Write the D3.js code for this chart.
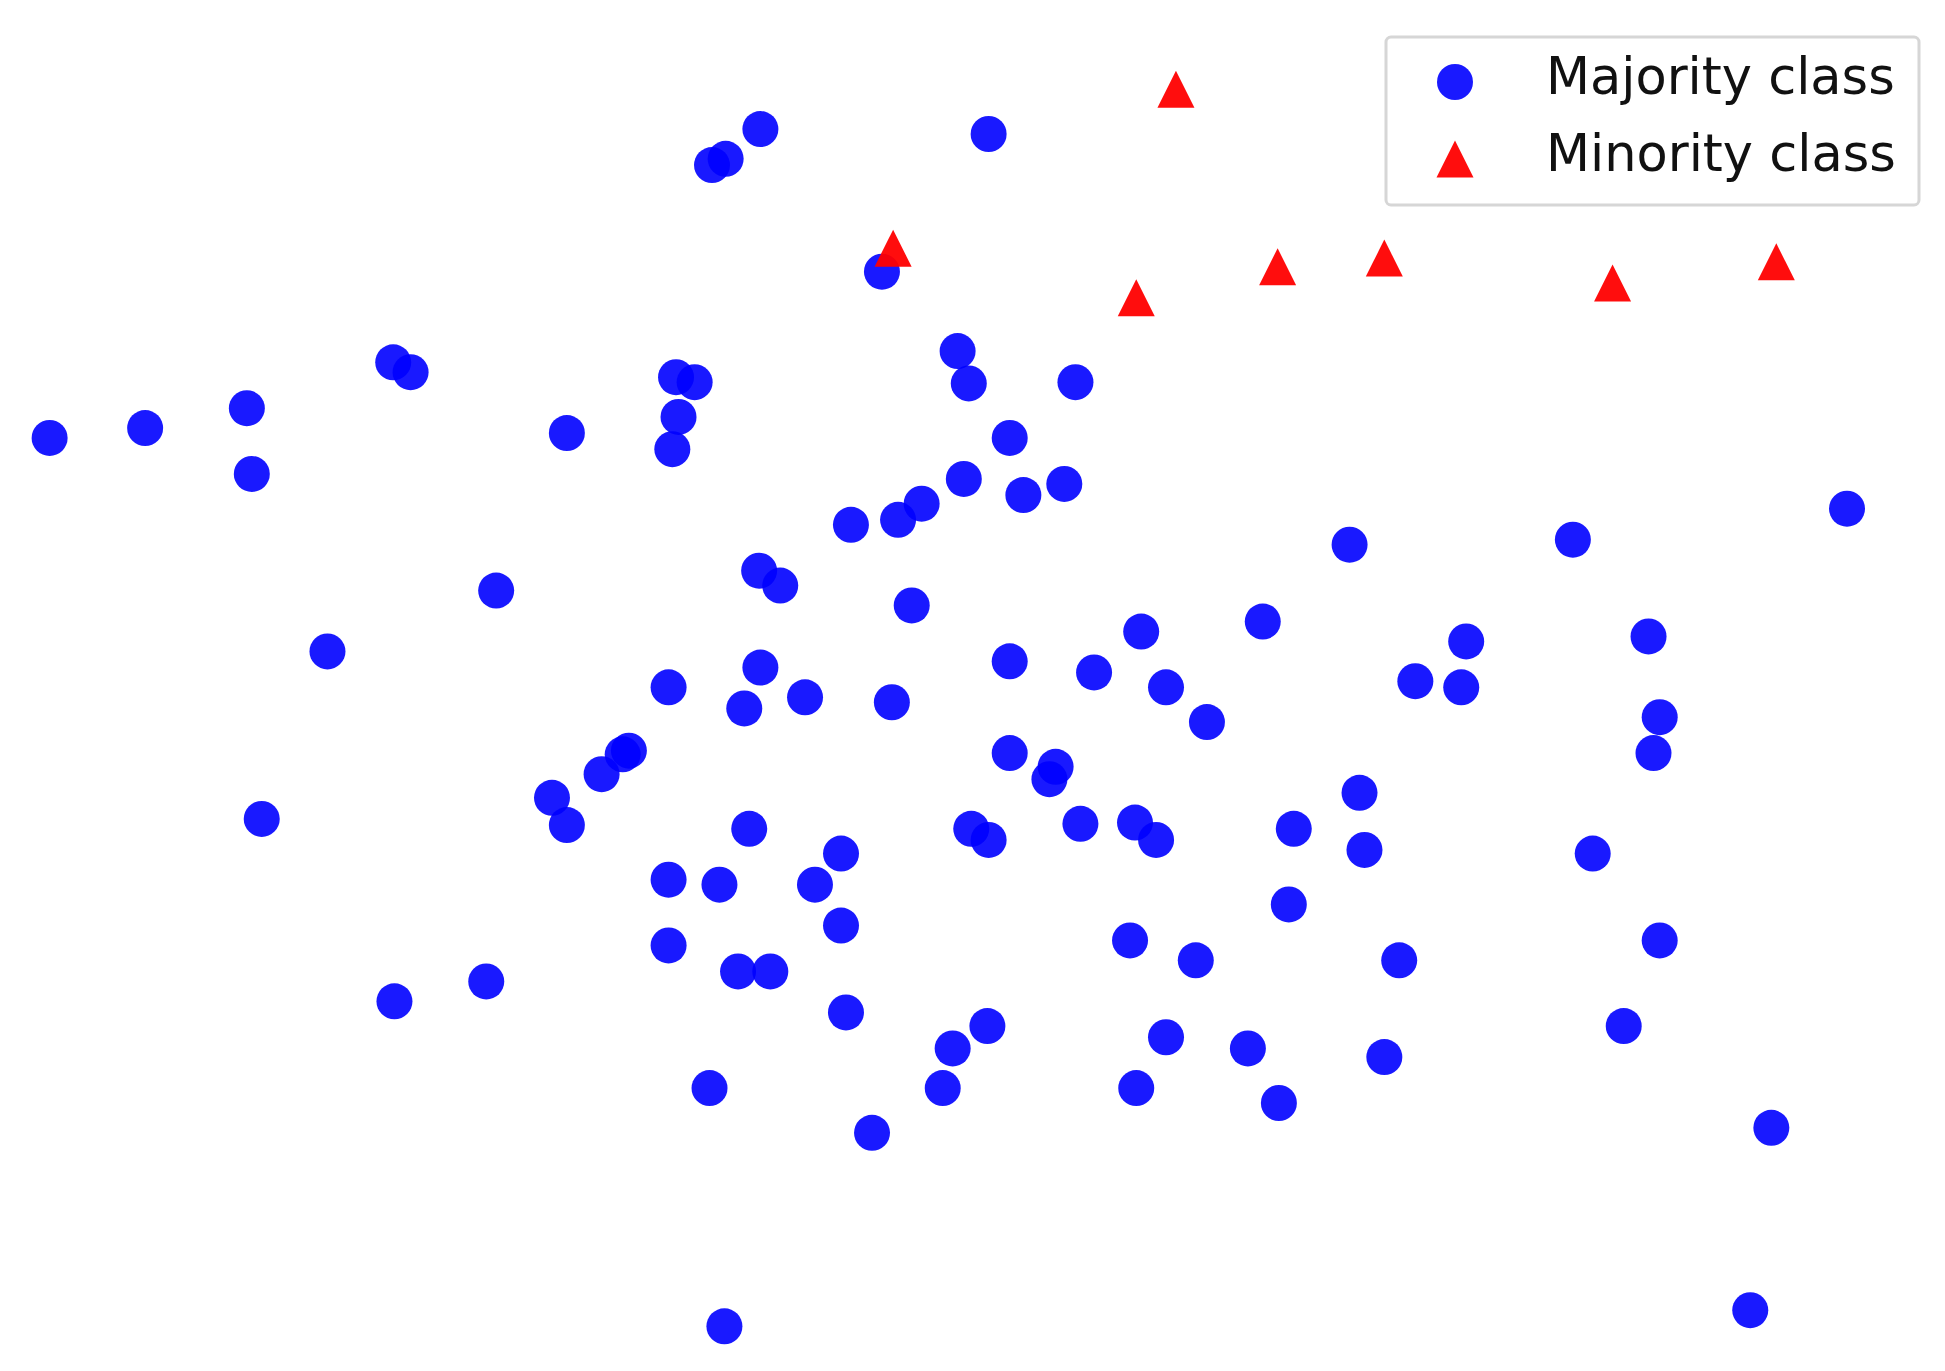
<!DOCTYPE html>
<html>
<head>
<meta charset="utf-8">
<script src="https://cdn.jsdelivr.net/npm/d3@7"></script>
<style>
  html, body { margin: 0; padding: 0; background: #fff; overflow: hidden; }
</style>
</head>
<body>
<script>
var width = 1945;
var height = 1371;

// majority class points (arbitrary units, y up)
var majorityX = [61.3, 57.4, 58.5, 79.7, 71.1, 31.7, 33.1, 19.9, 11.7, 4.0,
  20.3, 45.7, 54.5, 56.0, 54.7, 54.2, 77.2, 78.1, 86.7, 81.4,
  77.7, 82.5, 85.8, 74.3, 72.4, 68.6, 61.2, 62.9, 73.5, 40.0,
  26.4, 61.3, 53.9, 60.0, 64.9, 71.9, 81.4, 88.2, 92.0, 94.0,
  97.3, 101.8, 108.8, 126.8, 148.9, 118.2, 114.1, 117.8, 132.9, 133.8,
  133.3, 81.4, 85.1, 84.6, 50.7, 50.2, 48.5, 44.5, 45.7, 21.1,
  60.4, 78.3, 79.7, 87.1, 91.5, 93.2, 104.3, 109.6, 110.0, 128.4,
  67.8, 65.7, 53.9, 58.0, 67.8, 103.9, 91.1, 96.4, 112.8, 133.8,
  53.9, 59.5, 62.1, 31.8, 39.2, 68.2, 79.6, 76.8, 94.0, 100.6,
  111.6, 130.9, 57.2, 76.0, 91.6, 103.1, 70.3, 142.8, 58.4, 141.1];
var majorityY = [100.1, 97.2, 97.7, 99.7, 88.6, 81.3, 80.5, 77.6, 76.0, 75.2,
  72.3, 75.6, 80.1, 79.7, 76.9, 74.3, 82.2, 79.6, 79.7, 75.2,
  71.9, 70.6, 71.5, 69.9, 68.6, 68.2, 64.5, 63.3, 61.7, 62.9,
  58.0, 56.7, 55.1, 53.4, 54.3, 53.9, 57.2, 56.3, 59.6, 55.1,
  52.3, 60.4, 66.6, 67.0, 69.5, 58.8, 55.6, 55.1, 59.2, 52.7,
  49.8, 49.8, 48.7, 47.7, 50.0, 49.7, 48.1, 46.2, 44.0, 44.5,
  43.7, 43.7, 42.8, 44.1, 44.2, 42.8, 43.7, 46.6, 42.0, 41.7,
  41.7, 39.2, 39.6, 39.2, 35.9, 37.6, 34.7, 33.1, 33.1, 34.7,
  34.3, 32.2, 32.2, 29.8, 31.4, 28.9, 27.8, 26.0, 26.9, 26.0,
  25.3, 27.8, 22.8, 22.8, 22.8, 21.6, 19.2, 19.6, 3.6, 4.9];

var minorityX = [94.8, 72.0, 91.6, 103.0, 111.6, 130.0, 143.2];
var minorityY = [103.3, 90.5, 86.5, 89.0, 89.7, 87.7, 89.4];

var legendLabels = ['Majority class', 'Minority class'];

var blue = '#0000ff';
var red = '#ff0000';
var markerSize = 36;

var x = d3.scaleLinear().domain([0, 156.8]).range([0, width]);
var y = d3.scaleLinear().domain([0, 110.5]).range([height, 0]);

var svg = d3.select('body').append('svg')
  .attr('width', width)
  .attr('height', height);

function toPoints(xs, ys) {
  return xs.map(function(d, i) { return {x: d, y: ys[i]}; });
}

function trianglePath(s) {
  var h = s / 2;
  return 'M0,' + (-h) + 'L' + h + ',' + h + 'L' + (-h) + ',' + h + 'Z';
}

function translate(d) {
  return 'translate(' + x(d.x) + ',' + y(d.y) + ')';
}

svg.append('g')
  .selectAll('circle')
  .data(toPoints(majorityX, majorityY))
  .enter().append('circle')
    .attr('cx', function(d) { return x(d.x); })
    .attr('cy', function(d) { return y(d.y); })
    .attr('r', markerSize / 2)
    .attr('fill', blue)
    .attr('fill-opacity', 0.9);

svg.append('g')
  .selectAll('path')
  .data(toPoints(minorityX, minorityY))
  .enter().append('path')
    .attr('transform', translate)
    .attr('d', trianglePath(markerSize + 1))
    .attr('fill', red)
    .attr('fill-opacity', 0.95);

// legend, upper right
var legend = svg.append('g').attr('transform', 'translate(1386,37)');

legend.append('rect')
  .attr('width', 533)
  .attr('height', 168)
  .attr('rx', 5)
  .attr('fill', '#fff')
  .attr('fill-opacity', 0.8)
  .attr('stroke', '#d6d6d6')
  .attr('stroke-width', 3);

var rows = legend.selectAll('.row')
  .data(legendLabels)
  .enter().append('g')
    .attr('class', 'row')
    .attr('transform', function(d, i) { return 'translate(0,' + (45 + i * 77) + ')'; });

rows.each(function(d, i) {
  var row = d3.select(this);
  if (i === 0) {
    row.append('circle')
      .attr('cx', 69)
      .attr('r', markerSize / 2)
      .attr('fill', blue)
      .attr('fill-opacity', 0.9);
  } else {
    row.append('path')
      .attr('transform', 'translate(69,0)')
      .attr('d', trianglePath(markerSize + 1))
      .attr('fill', red)
      .attr('fill-opacity', 0.95);
  }
});

rows.append('text')
  .attr('x', 160)
  .attr('y', 12)
  .attr('font-family', 'DejaVu Sans')
  .attr('font-size', 51)
  .attr('fill', '#111')
  .text(function(d) { return d; });
</script>
</body>
</html>
